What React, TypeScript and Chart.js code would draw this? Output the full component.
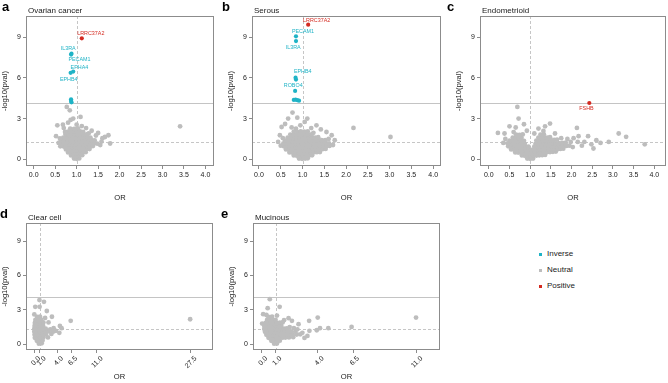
import React, { useEffect, useRef } from "react";
import { Chart, registerables } from "chart.js";

Chart.register(...registerables);

type Pt = [number, number];
interface Gene {
  gene: string;
  or: number;
  logp: number;
}

const NEUTRAL = "#bdbdbd";
const INVERSE = "#1fb3c6";
const POSITIVE = "#d42a20";
const FONT = "'Liberation Sans', Arial, Helvetica, sans-serif";

// Reference thresholds on the -log10(p) and OR axes
const SIG_LINE = 4.13;
const NOMINAL_LINE = 1.3;
const NULL_OR = 1;

const Y_MIN = -0.5;
const Y_MAX = 10.57;

const yTicks = [0, 3, 6, 9];
const xTicksNarrow = [0, 0.5, 1, 1.5, 2, 2.5, 3, 3.5, 4];
const xTicksClearCell = [0, 1, 4, 6.5, 11, 27.5];
const xTicksMucinous = [0, 1, 4, 6.5, 11];

// ---------- a: Ovarian cancer ----------
const ovarianNeutral: Pt[] = [
  [0.94, 0.05], [1.0, 0.03], [1.06, 0.06],
  [0.87, 0.28], [0.93, 0.25], [1.0, 0.22], [1.07, 0.27], [1.13, 0.3],
  [0.8, 0.5], [0.86, 0.47], [0.93, 0.46], [1.0, 0.44], [1.07, 0.48], [1.14, 0.5], [1.21, 0.52],
  [0.75, 0.72], [0.81, 0.7], [0.88, 0.68], [0.95, 0.66], [1.02, 0.67], [1.09, 0.7], [1.16, 0.69], [1.23, 0.73], [1.3, 0.75],
  [0.7, 0.94], [0.76, 0.92], [0.83, 0.9], [0.9, 0.89], [0.97, 0.88], [1.04, 0.9], [1.11, 0.91], [1.18, 0.93], [1.25, 0.95], [1.32, 0.94], [1.38, 0.97],
  [0.65, 1.16], [0.71, 1.14], [0.78, 1.12], [0.85, 1.1], [0.92, 1.11], [0.99, 1.1], [1.06, 1.12], [1.13, 1.14], [1.2, 1.15], [1.27, 1.13], [1.34, 1.17], [1.41, 1.18], [1.48, 1.15],
  [0.64, 1.4], [0.72, 1.37], [0.79, 1.35], [0.86, 1.34], [0.93, 1.33], [1.0, 1.35], [1.07, 1.34], [1.14, 1.36], [1.21, 1.38], [1.28, 1.37], [1.35, 1.4], [1.42, 1.39],
  [0.69, 1.6], [0.76, 1.58], [0.83, 1.57], [0.9, 1.56], [0.97, 1.58], [1.04, 1.57], [1.11, 1.6], [1.18, 1.59], [1.25, 1.62], [1.32, 1.6],
  [0.74, 1.82], [0.81, 1.8], [0.88, 1.79], [0.95, 1.81], [1.02, 1.8], [1.09, 1.83], [1.16, 1.81], [1.23, 1.84],
  [0.8, 2.04], [0.87, 2.02], [0.94, 2.05], [1.01, 2.03], [1.08, 2.06], [1.15, 2.02],
  [0.85, 2.26], [0.94, 2.24], [1.03, 2.28],
  [0.55, 2.5], [0.77, 3.86], [0.84, 3.61], [1.09, 3.12], [0.92, 3.0], [1.74, 1.77], [1.66, 1.64],
  [1.5, 1.94], [1.78, 1.16], [3.41, 2.43], [0.61, 1.53], [0.73, 2.01], [0.68, 2.55], [0.8, 2.7],
  [1.0, 2.55], [1.12, 2.45], [1.22, 2.3], [1.35, 2.1], [1.45, 1.75], [1.58, 1.3], [1.55, 1.05],
  [0.58, 1.2], [0.62, 0.95], [0.7, 2.3], [0.86, 2.9], [1.28, 1.9], [1.6, 1.55], [0.52, 1.7],
];
const ovarianInverse: Gene[] = [
  { gene: "IL3RA", or: 0.88, logp: 7.79 },
  { gene: "PECAM1", or: 0.87, logp: 7.72 },
  { gene: "EPHA4", or: 0.92, logp: 6.47 },
  { gene: "EPHB4", or: 0.86, logp: 6.38 },
  { gene: "", or: 0.87, logp: 4.42 },
  { gene: "", or: 0.87, logp: 4.3 },
  { gene: "", or: 0.88, logp: 4.2 },
];
const ovarianPositive: Gene[] = [{ gene: "LRRC37A2", or: 1.12, logp: 8.92 }];

// ---------- b: Serous ----------
const serousNeutral: Pt[] = [
  [0.92, 0.05], [0.99, 0.03], [1.06, 0.05], [1.12, 0.07],
  [0.8, 0.28], [0.87, 0.26], [0.94, 0.24], [1.01, 0.23], [1.08, 0.25], [1.15, 0.27], [1.22, 0.29],
  [0.7, 0.5], [0.77, 0.48], [0.84, 0.47], [0.91, 0.46], [0.98, 0.45], [1.05, 0.46], [1.12, 0.48], [1.19, 0.49], [1.26, 0.5], [1.33, 0.52], [1.4, 0.53],
  [0.62, 0.72], [0.69, 0.7], [0.76, 0.69], [0.83, 0.68], [0.9, 0.67], [0.97, 0.68], [1.04, 0.67], [1.11, 0.69], [1.18, 0.7], [1.25, 0.71], [1.32, 0.72], [1.39, 0.71], [1.46, 0.74], [1.53, 0.76],
  [0.57, 0.95], [0.64, 0.93], [0.71, 0.92], [0.78, 0.91], [0.85, 0.9], [0.92, 0.89], [0.99, 0.9], [1.06, 0.91], [1.13, 0.92], [1.2, 0.91], [1.27, 0.93], [1.34, 0.94], [1.41, 0.95], [1.48, 0.93], [1.55, 0.96], [1.62, 0.98],
  [0.56, 1.16], [0.63, 1.15], [0.7, 1.13], [0.77, 1.12], [0.84, 1.12], [0.91, 1.11], [0.98, 1.13], [1.05, 1.12], [1.12, 1.14], [1.19, 1.13], [1.26, 1.15], [1.33, 1.16], [1.4, 1.14], [1.47, 1.17], [1.54, 1.18], [1.61, 1.16],
  [0.6, 1.38], [0.67, 1.37], [0.74, 1.35], [0.81, 1.34], [0.88, 1.35], [0.95, 1.36], [1.02, 1.35], [1.09, 1.37], [1.16, 1.36], [1.23, 1.38], [1.3, 1.39], [1.37, 1.37], [1.44, 1.4], [1.52, 1.41],
  [0.66, 1.6], [0.73, 1.58], [0.8, 1.57], [0.87, 1.58], [0.94, 1.59], [1.01, 1.57], [1.08, 1.6], [1.15, 1.59], [1.22, 1.61], [1.29, 1.6], [1.36, 1.63],
  [0.72, 1.82], [0.79, 1.8], [0.86, 1.81], [0.93, 1.8], [1.0, 1.82], [1.07, 1.81], [1.14, 1.83], [1.21, 1.84],
  [0.8, 2.04], [0.88, 2.02], [0.96, 2.05], [1.04, 2.03], [1.12, 2.06],
  [0.52, 2.38], [0.67, 3.0], [0.88, 3.07], [1.11, 3.0], [1.32, 2.5], [1.55, 2.01], [1.67, 1.77],
  [1.74, 1.4], [0.48, 1.77], [0.44, 1.28], [0.77, 3.44], [0.6, 2.6], [0.75, 2.35], [0.95, 2.5],
  [1.2, 2.3], [1.42, 2.2], [1.05, 2.75], [0.5, 1.0], [1.7, 1.05], [2.17, 2.31], [3.02, 1.64],
  [0.85, 2.25], [1.25, 1.95], [1.6, 1.5], [0.55, 1.55],
];
const serousInverse: Gene[] = [
  { gene: "PECAM1", or: 0.85, logp: 9.07 },
  { gene: "IL3RA", or: 0.85, logp: 8.72 },
  { gene: "EPHB4", or: 0.84, logp: 6.02 },
  { gene: "", or: 0.85, logp: 5.88 },
  { gene: "ROBO4", or: 0.83, logp: 5.04 },
  { gene: "", or: 0.8, logp: 4.38 },
  { gene: "", or: 0.84, logp: 4.4 },
  { gene: "", or: 0.88, logp: 4.36 },
  { gene: "", or: 0.92, logp: 4.32 },
];
const serousPositive: Gene[] = [{ gene: "LRRC37A2", or: 1.13, logp: 9.93 }];

// ---------- c: Endometrioid ----------
const endometrioidNeutral: Pt[] = [
  [0.93, 0.05], [1.0, 0.03], [1.07, 0.05],
  [0.8, 0.28], [0.87, 0.26], [0.94, 0.25], [1.01, 0.24], [1.08, 0.26], [1.15, 0.27], [1.22, 0.29], [1.29, 0.3], [1.36, 0.32],
  [0.64, 0.5], [0.71, 0.49], [0.78, 0.48], [0.85, 0.47], [0.92, 0.46], [0.99, 0.46], [1.06, 0.47], [1.13, 0.48], [1.2, 0.49], [1.27, 0.5], [1.34, 0.51], [1.41, 0.52], [1.48, 0.53], [1.55, 0.55], [1.62, 0.57],
  [0.54, 0.72], [0.61, 0.71], [0.68, 0.7], [0.75, 0.69], [0.82, 0.68], [0.89, 0.69], [0.96, 0.68], [1.03, 0.69], [1.1, 0.7], [1.17, 0.69], [1.24, 0.71], [1.31, 0.7], [1.38, 0.72], [1.45, 0.71], [1.52, 0.73], [1.59, 0.72], [1.66, 0.74], [1.73, 0.76], [1.8, 0.78],
  [0.47, 0.95], [0.54, 0.93], [0.61, 0.92], [0.68, 0.91], [0.75, 0.9], [0.82, 0.91], [0.89, 0.9], [0.96, 0.92], [1.1, 0.92], [1.17, 0.91], [1.24, 0.93], [1.31, 0.92], [1.38, 0.94], [1.45, 0.93], [1.52, 0.95], [1.59, 0.94], [1.66, 0.96], [1.73, 0.95], [1.8, 0.97], [1.88, 0.98], [1.95, 1.0],
  [0.45, 1.17], [0.52, 1.15], [0.59, 1.14], [0.66, 1.13], [0.73, 1.14], [0.8, 1.12], [0.87, 1.13], [1.13, 1.14], [1.2, 1.13], [1.27, 1.15], [1.34, 1.14], [1.41, 1.16], [1.48, 1.15], [1.55, 1.17], [1.62, 1.16], [1.7, 1.18], [1.78, 1.2], [1.86, 1.22],
  [0.5, 1.38], [0.57, 1.37], [0.64, 1.36], [0.71, 1.35], [0.78, 1.37], [0.85, 1.36], [1.15, 1.38], [1.22, 1.36], [1.29, 1.37], [1.36, 1.39], [1.43, 1.38], [1.5, 1.4], [1.58, 1.42], [1.65, 1.45],
  [0.58, 1.6], [0.65, 1.58], [0.72, 1.57], [0.79, 1.59], [1.2, 1.6], [1.27, 1.58], [1.34, 1.61], [1.41, 1.6], [1.48, 1.63],
  [0.66, 1.82], [0.74, 1.8], [0.82, 1.83], [1.25, 1.82], [1.33, 1.84],
  [0.69, 3.86], [0.72, 3.0], [0.22, 1.94], [0.38, 1.9], [0.5, 2.43], [0.65, 2.34], [0.85, 2.58],
  [1.48, 2.63], [2.13, 2.31], [2.17, 1.7], [2.4, 1.7], [3.14, 1.9], [3.32, 1.65], [3.77, 1.1],
  [2.9, 1.28], [2.7, 1.2], [2.53, 0.79], [2.48, 1.1], [2.31, 1.28], [2.15, 1.28], [2.03, 0.9],
  [1.98, 1.28], [1.2, 2.26], [1.32, 2.09], [1.36, 2.43], [0.4, 1.5], [0.6, 2.0], [0.92, 2.1],
  [1.1, 1.9], [1.6, 1.9], [1.75, 1.55], [1.9, 1.5], [2.05, 1.55], [0.35, 1.2], [2.25, 1.0], [2.6, 1.4],
];
const endometrioidInverse: Gene[] = [];
const endometrioidPositive: Gene[] = [{ gene: "FSHB", or: 2.43, logp: 4.15 }];

// ---------- d: Clear cell ----------
const clearCellNeutral: Pt[] = [
  [0.8, 0.05], [1.3, 0.08],
  [0.45, 0.3], [0.95, 0.28], [1.45, 0.32],
  [0.1, 0.56], [0.6, 0.55], [1.1, 0.54], [1.6, 0.58],
  [0.05, 0.82], [0.55, 0.8], [1.05, 0.81], [1.55, 0.83], [2.05, 0.85],
  [0.0, 1.08], [0.5, 1.07], [1.0, 1.06], [1.5, 1.09], [2.0, 1.1], [2.5, 1.12],
  [0.0, 1.34], [0.5, 1.33], [1.0, 1.35], [1.5, 1.34], [2.0, 1.37],
  [0.05, 1.6], [0.55, 1.59], [1.05, 1.61], [1.55, 1.6],
  [0.1, 1.86], [0.6, 1.85], [1.1, 1.87], [1.6, 1.9],
  [0.2, 2.12], [0.7, 2.11], [1.2, 2.14],
  [0.5, 2.38], [1.0, 2.4],
  [0.9, 3.85], [1.7, 3.7], [0.17, 3.26], [0.93, 3.26], [2.2, 2.9], [3.1, 2.4], [6.4, 2.04],
  [27.4, 2.18], [4.5, 1.6], [4.8, 1.4], [3.4, 1.4], [3.8, 1.17], [4.4, 1.0], [2.8, 1.3],
  [2.5, 1.9], [3.0, 0.9], [2.4, 0.6], [1.9, 2.3], [0.0, 2.6], [3.3, 1.1],
];

// ---------- e: Mucinous ----------
const mucinousNeutral: Pt[] = [
  [0.9, 0.05], [1.1, 0.06],
  [0.7, 0.3], [0.9, 0.28], [1.1, 0.29], [1.3, 0.31],
  [0.5, 0.56], [0.7, 0.55], [0.9, 0.54], [1.1, 0.55], [1.3, 0.56], [1.5, 0.57], [1.7, 0.58], [1.95, 0.6], [2.25, 0.62],
  [0.35, 0.82], [0.55, 0.81], [0.75, 0.8], [0.95, 0.8], [1.15, 0.81], [1.35, 0.82], [1.55, 0.83], [1.75, 0.82], [1.95, 0.84], [2.2, 0.86], [2.5, 0.85],
  [0.25, 1.08], [0.45, 1.07], [0.65, 1.06], [0.85, 1.07], [1.05, 1.06], [1.25, 1.08], [1.45, 1.07], [1.65, 1.09], [1.85, 1.1], [2.1, 1.12], [2.4, 1.1],
  [0.2, 1.34], [0.4, 1.33], [0.6, 1.32], [0.8, 1.33], [1.0, 1.34], [1.2, 1.33], [1.4, 1.35], [1.6, 1.36], [1.8, 1.38],
  [0.2, 1.6], [0.4, 1.59], [0.6, 1.58], [0.8, 1.6], [1.0, 1.59], [1.2, 1.61], [1.4, 1.62],
  [0.3, 1.86], [0.5, 1.85], [0.7, 1.84], [0.9, 1.86], [1.1, 1.85], [1.3, 1.88],
  [0.4, 2.12], [0.6, 2.11], [0.8, 2.13], [1.0, 2.12],
  [0.5, 2.38], [0.75, 2.4],
  [0.59, 3.93], [0.44, 3.15], [1.29, 3.26], [0.12, 2.62], [0.35, 2.55], [3.38, 2.04], [3.99, 2.33],
  [4.15, 1.4], [4.74, 1.4], [6.39, 1.51], [10.96, 2.33], [3.92, 1.22], [3.4, 1.17], [3.26, 0.73],
  [2.75, 0.87], [2.63, 1.75], [2.16, 2.04], [1.92, 2.27], [1.6, 2.1], [2.9, 1.0], [2.55, 1.3],
  [3.05, 0.55], [1.5, 1.9], [0.05, 1.8], [1.1, 2.5], [2.0, 1.5], [2.3, 1.4],
];

const legendItems = [
  { label: "Inverse", color: INVERSE },
  { label: "Neutral", color: NEUTRAL },
  { label: "Positive", color: POSITIVE },
];

interface PanelSpec {
  letter: string;
  title: string;
  canvas: { left: number; top: number; width: number; height: number };
  area: { l: number; t: number; r: number; b: number };
  letterX: number;
  xMin: number;
  xMax: number;
  xTicks: number[];
  rotate: boolean;
  xTitleY: number;
  neutral: Pt[];
  inverse: Gene[];
  positive: Gene[];
  nudges: Record<string, [number, number]>;
}

const panels: PanelSpec[] = [
  {
    letter: "a", title: "Ovarian cancer",
    canvas: { left: 0, top: 0, width: 220, height: 205 },
    area: { l: 26, t: 16, r: 214, b: 166 }, letterX: 2,
    xMin: -0.18, xMax: 4.2, xTicks: xTicksNarrow, rotate: false, xTitleY: 198,
    neutral: ovarianNeutral, inverse: ovarianInverse, positive: ovarianPositive,
    nudges: { LRRC37A2: [9, -4.4], IL3RA: [-3.3, -4.7], PECAM1: [8.4, 5.2], EPHA4: [6.2, -4.1], EPHB4: [-1.9, 7] },
  },
  {
    letter: "b", title: "Serous",
    canvas: { left: 218, top: 0, width: 228, height: 205 },
    area: { l: 252, t: 16, r: 441, b: 166 }, letterX: 222,
    xMin: -0.16, xMax: 4.18, xTicks: xTicksNarrow, rotate: false, xTitleY: 198,
    neutral: serousNeutral, inverse: serousInverse, positive: serousPositive,
    nudges: { LRRC37A2: [8.5, -4.1], PECAM1: [7, -4.7], IL3RA: [-2.8, 6.4], EPHB4: [7.2, -5.7], ROBO4: [-1.9, -5.4] },
  },
  {
    letter: "c", title: "Endometrioid",
    canvas: { left: 444, top: 0, width: 226, height: 205 },
    area: { l: 480, t: 16, r: 670, b: 166 }, letterX: 447,
    xMin: -0.213, xMax: 4.284, xTicks: xTicksNarrow, rotate: false, xTitleY: 198,
    neutral: endometrioidNeutral, inverse: endometrioidInverse, positive: endometrioidPositive,
    nudges: { FSHB: [-2.8, 5.6] },
  },
  {
    letter: "d", title: "Clear cell",
    canvas: { left: 0, top: 205, width: 220, height: 178 },
    area: { l: 26, t: 223, r: 213, b: 350 }, letterX: 0,
    xMin: -1.46, xMax: 31.42, xTicks: xTicksClearCell, rotate: true, xTitleY: 377,
    neutral: clearCellNeutral, inverse: [], positive: [],
    nudges: {},
  },
  {
    letter: "e", title: "Mucinous",
    canvas: { left: 218, top: 205, width: 228, height: 178 },
    area: { l: 253, t: 223, r: 440, b: 350 }, letterX: 221,
    xMin: -0.6, xMax: 12.66, xTicks: xTicksMucinous, rotate: true, xTitleY: 377,
    neutral: mucinousNeutral, inverse: [], positive: [],
    nudges: {},
  },
];

function buildChart(canvas: HTMLCanvasElement, p: PanelSpec) {
  const c = p.canvas;
  const a = p.area;
  const yScaleWidth = a.l - c.left;
  const xScaleHeight = c.top + c.height - a.b;
  const padTop = a.t - c.top;
  const padRight = c.left + c.width - a.r;

  const overlay = {
    id: "panelOverlay",
    beforeDatasetsDraw(chart: any) {
      const { ctx, chartArea: ca, scales } = chart;
      const x = scales.x;
      const y = scales.y;
      ctx.save();
      ctx.beginPath();
      ctx.rect(ca.left, ca.top, ca.right - ca.left, ca.bottom - ca.top);
      ctx.clip();
      ctx.lineWidth = 1;
      ctx.strokeStyle = "#c6c6c6";
      ctx.setLineDash([3, 2]);
      const yn = Math.round(y.getPixelForValue(NOMINAL_LINE)) + 0.5;
      ctx.beginPath();
      ctx.moveTo(ca.left, yn);
      ctx.lineTo(ca.right, yn);
      ctx.stroke();
      const xv = Math.round(x.getPixelForValue(NULL_OR)) + 0.5;
      ctx.beginPath();
      ctx.moveTo(xv, ca.top);
      ctx.lineTo(xv, ca.bottom);
      ctx.stroke();
      ctx.setLineDash([]);
      ctx.strokeStyle = "#c4c4c4";
      const ys = Math.round(y.getPixelForValue(SIG_LINE)) + 0.5;
      ctx.beginPath();
      ctx.moveTo(ca.left, ys);
      ctx.lineTo(ca.right, ys);
      ctx.stroke();
      ctx.restore();
    },
    afterDatasetsDraw(chart: any) {
      const { ctx, chartArea: ca } = chart;
      ctx.save();
      // gene names next to the highlighted points
      ctx.font = `5.4px ${FONT}`;
      ctx.textAlign = "center";
      ctx.textBaseline = "middle";
      [1, 2].forEach((di) => {
        const meta = chart.getDatasetMeta(di);
        const ds = chart.data.datasets[di];
        meta.data.forEach((el: any, j: number) => {
          const g = ds.data[j].gene as string;
          if (!g) return;
          const n = p.nudges[g] || [0, -5];
          ctx.fillStyle = ds.backgroundColor;
          ctx.fillText(g, el.x + n[0], el.y + n[1]);
        });
      });
      // frame around the plotting region
      ctx.strokeStyle = "#8c8c8c";
      ctx.lineWidth = 1;
      ctx.strokeRect(ca.left + 0.5, ca.top + 0.5, ca.right - ca.left - 1, ca.bottom - ca.top - 1);
      ctx.restore();
    },
    afterDraw(chart: any) {
      const { ctx, chartArea: ca } = chart;
      ctx.save();
      ctx.fillStyle = "#000";
      ctx.textBaseline = "alphabetic";
      ctx.textAlign = "left";
      ctx.font = `bold 13px ${FONT}`;
      ctx.fillText(p.letter, p.letterX - c.left, ca.top - 5);
      ctx.fillStyle = "#1a1a1a";
      ctx.font = `8px ${FONT}`;
      ctx.fillText(p.title, ca.left + 2, ca.top - 3.5);
      ctx.font = `7.6px ${FONT}`;
      ctx.textAlign = "center";
      ctx.textBaseline = "middle";
      ctx.fillText("OR", (ca.left + ca.right) / 2, p.xTitleY - c.top);
      ctx.translate(ca.left - 21, (ca.top + ca.bottom) / 2);
      ctx.rotate(-Math.PI / 2);
      ctx.fillText("-log10(pval)", 0, 0);
      ctx.restore();
    },
  };

  const toPts = (g: Gene[]) => g.map((d) => ({ x: d.or, y: d.logp, gene: d.gene }));

  return new Chart(canvas, {
    type: "scatter",
    data: {
      datasets: [
        {
          label: "Neutral",
          data: p.neutral.map(([x, y]) => ({ x, y })),
          backgroundColor: NEUTRAL,
          pointRadius: 2.4,
          pointBorderWidth: 0,
        },
        {
          label: "Inverse",
          data: toPts(p.inverse),
          backgroundColor: INVERSE,
          pointRadius: 2.1,
          pointBorderWidth: 0,
        },
        {
          label: "Positive",
          data: toPts(p.positive),
          backgroundColor: POSITIVE,
          pointRadius: 2.1,
          pointBorderWidth: 0,
        },
      ] as any,
    },
    options: {
      animation: false,
      responsive: false,
      events: [],
      layout: { padding: { top: padTop, right: padRight, left: 0, bottom: 0 } },
      plugins: {
        legend: { display: false },
        tooltip: { enabled: false },
        title: { display: false },
      },
      scales: {
        x: {
          type: "linear",
          min: p.xMin,
          max: p.xMax,
          afterBuildTicks: (s: any) => {
            s.ticks = p.xTicks.map((v) => ({ value: v }));
          },
          afterFit: (s: any) => {
            s.height = xScaleHeight;
          },
          ticks: {
            autoSkip: false,
            font: { family: FONT, size: 7 },
            color: "#1a1a1a",
            padding: 1.5,
            minRotation: p.rotate ? 45 : 0,
            maxRotation: p.rotate ? 45 : 0,
            labelOffset: p.rotate ? 5 : 0,
            callback: (v: any) => Number(v).toFixed(1),
          },
          grid: { drawOnChartArea: false, drawTicks: true, tickLength: 3, color: "#8c8c8c" },
          border: { display: false },
        },
        y: {
          type: "linear",
          min: Y_MIN,
          max: Y_MAX,
          afterBuildTicks: (s: any) => {
            s.ticks = yTicks.map((v) => ({ value: v }));
          },
          afterFit: (s: any) => {
            s.width = yScaleWidth;
          },
          ticks: {
            font: { family: FONT, size: 7 },
            color: "#1a1a1a",
            padding: 2,
            callback: (v: any) => String(v),
          },
          grid: { drawOnChartArea: false, drawTicks: true, tickLength: 3, color: "#8c8c8c" },
          border: { display: false },
        },
      },
    } as any,
    plugins: [overlay],
  });
}

function Panel({ spec }: { spec: PanelSpec }) {
  const ref = useRef<HTMLCanvasElement | null>(null);
  useEffect(() => {
    if (!ref.current) return;
    const chart = buildChart(ref.current, spec);
    return () => chart.destroy();
  }, [spec]);
  const c = spec.canvas;
  return (
    <canvas
      ref={ref}
      width={c.width}
      height={c.height}
      style={{ position: "absolute", left: c.left, top: c.top, width: c.width, height: c.height }}
    />
  );
}

export default function App() {
  return (
    <div
      style={{
        position: "fixed",
        left: 0,
        top: 0,
        width: 668,
        height: 383,
        overflow: "hidden",
        background: "#fff",
        fontFamily: FONT,
      }}
    >
      {panels.map((p) => (
        <Panel key={p.letter} spec={p} />
      ))}
      {legendItems.map((it, i) => (
        <div
          key={it.label}
          style={{
            position: "absolute",
            left: 539,
            top: 248 + i * 16,
            height: 12,
            display: "flex",
            alignItems: "center",
            fontSize: 8,
            color: "#1a1a1a",
            lineHeight: "12px",
          }}
        >
          <span
            style={{
              display: "inline-block",
              width: 3,
              height: 3,
              background: it.color,
              marginRight: 5,
            }}
          />
          {it.label}
        </div>
      ))}
    </div>
  );
}
